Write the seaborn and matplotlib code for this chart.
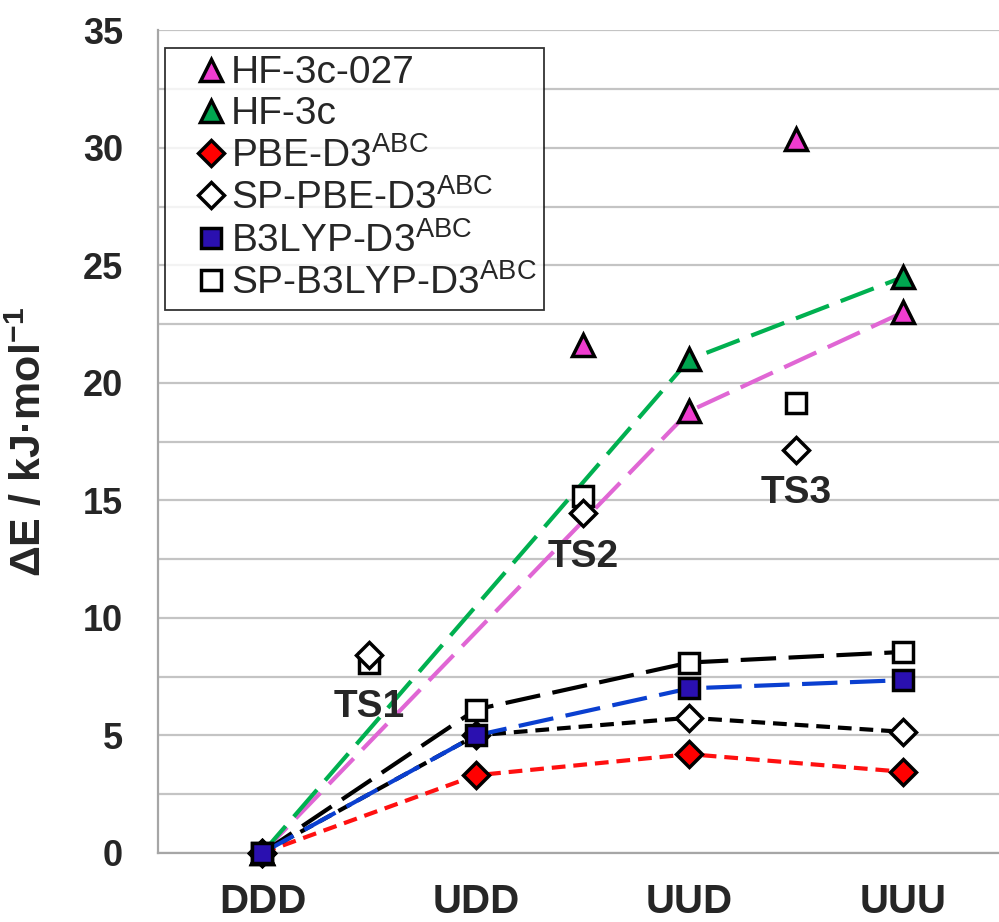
import pandas as pd
import seaborn as sns
import matplotlib.pyplot as plt
from matplotlib.lines import Line2D
from matplotlib.ticker import MultipleLocator

# ----- Data ----- #
states = ["DDD", "UDD", "UUD", "UUU"]
ts_names = ["TS1", "TS2", "TS3"]

# minima (lines), HF-3c runs have no UDD point
hf3c027_states = ["DDD", "UUD", "UUU"]
hf3c027_vals = [0.0, 18.8, 23.0]
hf3c_states = ["DDD", "UUD", "UUU"]
hf3c_vals = [0.0, 21.0, 24.5]
pbe_vals = [0.0, 3.3, 4.2, 3.45]
sp_pbe_vals = [0.0, 5.0, 5.75, 5.15]
b3lyp_vals = [0.0, 5.0, 7.0, 7.35]
sp_b3lyp_vals = [0.0, 6.1, 8.1, 8.55]

# transition states (markers only)
hf3c027_ts = ["TS2", "TS3"]
hf3c027_ts_vals = [21.6, 30.4]
sp_pbe_ts_vals = [8.4, 14.45, 17.15]
sp_b3lyp_ts_vals = [8.1, 15.2, 19.15]

# label positions for TS annotations
ts_label_y = [6.2, 12.6, 15.3]

# ----- position helpers ----- #
pos = {s: i for i, s in enumerate(states)}
pos.update({t: i + 0.5 for i, t in enumerate(ts_names)})


def frame(names, vals):
    return pd.DataFrame({"x": [pos[n] for n in names], "y": vals})


sns.set_style("white")
plt.rcParams["font.family"] = ["Liberation Sans", "DejaVu Sans"]
plt.rcParams["mathtext.fontset"] = "custom"
plt.rcParams["mathtext.rm"] = "Liberation Sans"
plt.rcParams["mathtext.bf"] = "Liberation Sans:bold"

fig = plt.figure(figsize=(9.99, 9.22), dpi=100)
ax = fig.add_axes([0.158, 0.075, 0.842, 0.892])

long_dash = (0, (8.5, 3.0))
short_dash = (0, (3.3, 1.9))

series = [
    # label, states, vals, ts, ts_vals, line colour, fill, marker, ms, linestyle, z
    ("HF-3c-027", hf3c027_states, hf3c027_vals, hf3c027_ts, hf3c027_ts_vals,
     "#E066D4", "#F03CD0", "^", 16, long_dash, 3),
    ("HF-3c", hf3c_states, hf3c_vals, [], [],
     "#00B050", "#00A550", "^", 16, long_dash, 4),
    ("PBE-D3$^{\\mathregular{ABC}}$", states, pbe_vals, [], [],
     "#FF1010", "#FF0000", "D", 13, short_dash, 5),
    ("SP-PBE-D3$^{\\mathregular{ABC}}$", states, sp_pbe_vals, ts_names, sp_pbe_ts_vals,
     "black", "white", "D", 13, short_dash, 7),
    ("B3LYP-D3$^{\\mathregular{ABC}}$", states, b3lyp_vals, [], [],
     "#0A3FD0", "#2A10B0", "s", 14.5, long_dash, 8),
    ("SP-B3LYP-D3$^{\\mathregular{ABC}}$", states, sp_b3lyp_vals, ts_names, sp_b3lyp_ts_vals,
     "black", "white", "s", 14.5, long_dash, 6),
]

handles = []
for label, st, vals, ts, ts_vals, lc, fc, mk, ms, ls, z in series:
    d = frame(st, vals)
    sns.lineplot(data=d, x="x", y="y", ax=ax, color=lc, lw=3.0, linestyle=ls,
                 marker=mk, markersize=ms, markerfacecolor=fc, markeredgecolor="black",
                 markeredgewidth=2.5, clip_on=False, zorder=z, legend=False)
    if ts:
        t = frame(ts, ts_vals)
        sns.lineplot(data=t, x="x", y="y", ax=ax, color=lc, linestyle="none",
                     marker=mk, markersize=ms, markerfacecolor=fc, markeredgecolor="black",
                     markeredgewidth=2.5, zorder=z, legend=False)
    handles.append(Line2D([], [], linestyle="none", marker=mk, markersize=ms,
                          markerfacecolor=fc, markeredgecolor="black",
                          markeredgewidth=2.5, label=label))

for name, yy in zip(ts_names, ts_label_y):
    ax.text(pos[name], yy, name, ha="center", va="center", fontsize=28,
            fontweight="bold", zorder=20)

# ----- axes styling ----- #
ax.set_xlim(-0.49, 3.45)
ax.set_ylim(0, 35)
ax.yaxis.set_major_locator(MultipleLocator(5))
ax.yaxis.set_minor_locator(MultipleLocator(2.5))
ax.yaxis.grid(True, which="both", color="#C4C4C4", lw=1.6)
ax.set_axisbelow(True)

ax.set_xticks(range(len(states)))
ax.set_xticklabels(states)
for lab in ax.get_xticklabels():
    lab.set_fontweight("bold")
    lab.set_fontsize(29)
ax.tick_params(axis="x", length=0, pad=22)
ax.tick_params(axis="y", which="major", direction="out", length=11, width=1.5,
               color="#A0A0A0", pad=14, labelsize=26)
ax.tick_params(axis="y", which="minor", length=0)
for lab in ax.get_yticklabels():
    lab.set_fontweight("bold")

for side in ["top", "right"]:
    ax.spines[side].set_visible(False)
for side in ["left", "bottom"]:
    ax.spines[side].set_color("#A6A6A6")
    ax.spines[side].set_linewidth(1.6)

ax.set_xlabel("")
ax.set_ylabel("ΔE / kJ·mol$^{\\mathregular{-1}}$", fontsize=31, fontweight="bold")
ax.yaxis.set_label_coords(-0.128, 0.5)

leg = ax.legend(handles=handles, loc="upper left", bbox_to_anchor=(0.008, 0.979),
                borderaxespad=0, fontsize=28, frameon=True, fancybox=False,
                handlelength=2.0, handletextpad=-0.5, borderpad=0.2,
                labelspacing=0.12)
leg.get_frame().set_edgecolor("black")
leg.get_frame().set_linewidth(1.3)
leg.set_zorder(30)

fig.savefig("out.png", dpi=100)
